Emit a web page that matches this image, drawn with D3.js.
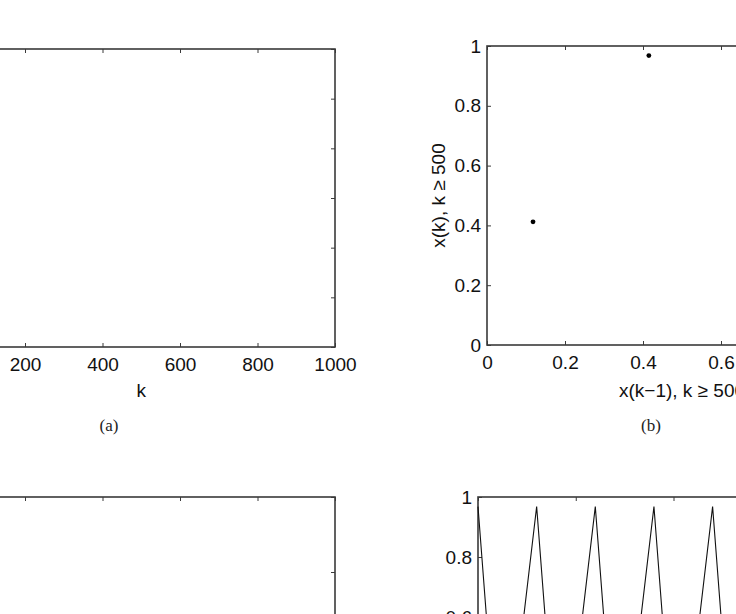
<!DOCTYPE html>
<html>
<head>
<meta charset="utf-8">
<script src="https://cdn.jsdelivr.net/npm/d3@7/dist/d3.min.js"></script>
<style>
  body { margin: 0; background: #fff; }
  svg { display: block; }
</style>
</head>
<body>
<svg id="chart" width="736" height="614"></svg>
<script>
// ---- data ----
// (a) x(k) vs k axis ticks
const kTicksA = [0, 200, 400, 600, 800, 1000];
// (b) phase plot: x(k-1) vs x(k), k >= 500
const phaseXprev = [0.118, 0.415, 0.968];
const phaseX     = [0.412, 0.968, 0.118];
const phaseTicks = [0, 0.2, 0.4, 0.6, 0.8, 1];
// (d) time series, k = 500..520
const seriesK = [500, 501, 502, 503, 504, 505, 506, 507, 508, 509, 510,
                 511, 512, 513, 514, 515, 516, 517, 518, 519, 520];
const seriesX = [0.968, 0.118, 0.413, 0.968, 0.118, 0.413, 0.968, 0.118, 0.413, 0.968, 0.118,
                 0.413, 0.968, 0.118, 0.413, 0.968, 0.118, 0.413, 0.968, 0.118, 0.413];
const seriesKTicks = [500, 505, 510, 515, 520];
const captions = ["(a)", "(b)"];

// ---- drawing ----
const svg = d3.select("#chart");
const FONT = '"Liberation Sans", Arial, Helvetica, sans-serif';
const AX = "#3a3a3a";

function panel(opt) {
  const g = svg.append("g");
  const x = d3.scaleLinear().domain(opt.xDomain).range([opt.left, opt.right]);
  const y = d3.scaleLinear().domain(opt.yDomain).range([opt.bottom, opt.top]);
  const tl = 4;
  const fs = opt.fs || 19;
  const bx = g.append("g").attr("transform", `translate(0,${opt.bottom})`)
    .call(d3.axisBottom(x).tickValues(opt.xTicks).tickSize(-tl).tickPadding(11)
      .tickFormat(opt.xFmt || d3.format("")));
  const tx = g.append("g").attr("transform", `translate(0,${opt.top})`)
    .call(d3.axisTop(x).tickValues(opt.xTicks).tickSize(-tl).tickFormat(""));
  const ly = g.append("g").attr("transform", `translate(${opt.left},0)`)
    .call(d3.axisLeft(y).tickValues(opt.yTicks).tickSize(-tl).tickPadding(6)
      .tickFormat(opt.yFmt || d3.format("")));
  const ry = g.append("g").attr("transform", `translate(${opt.right},0)`)
    .call(d3.axisRight(y).tickValues(opt.yTicks).tickSize(-tl).tickFormat(""));
  [bx, tx, ly, ry].forEach(a => {
    a.select(".domain").remove();
    a.selectAll(".tick line").attr("stroke", AX).attr("stroke-width", 1);
    a.selectAll(".tick text").attr("font-size", fs).attr("fill", "#111")
      .attr("font-family", FONT);
    // drop labels that would lie fully outside the picture
    a.selectAll(".tick text").filter(function() { return this.textContent === ""; }).remove();
  });
  g.append("rect").attr("x", opt.left).attr("y", opt.top)
    .attr("width", opt.right - opt.left).attr("height", opt.bottom - opt.top)
    .attr("fill", "none").attr("stroke", AX).attr("stroke-width", 1.6);
  return {g, x, y};
}

// labels only for ticks whose label is inside the picture for the cropped panels
const kFmtA = d => (d === 0 ? "" : String(d));

// (a)
const pa = panel({left: -52.5, right: 335, top: 49, bottom: 347,
  xDomain: [0, 1000], yDomain: [0, 6], xTicks: kTicksA,
  yTicks: [0, 1, 2, 3, 4, 5, 6], yFmt: () => "", xFmt: kFmtA});
pa.g.append("text").attr("x", pa.x(500)).attr("y", 397)
  .attr("text-anchor", "middle").attr("font-family", FONT).attr("font-size", 19)
  .attr("fill", "#111").text("k");

// (b)
const pb = panel({left: 487, right: 877, top: 46, bottom: 345,
  xDomain: [0, 1], yDomain: [0, 1], xTicks: phaseTicks, yTicks: phaseTicks,
  xFmt: d => (d > 0.7 ? "" : d3.format("~g")(d)), yFmt: d3.format("~g")});
pb.g.selectAll("circle.pt").data(phaseXprev.map((v, i) => [v, phaseX[i]]))
  .join("circle").attr("class", "pt")
  .attr("cx", d => pb.x(d[0])).attr("cy", d => pb.y(d[1]))
  .attr("r", 2.4).attr("fill", "#000");
pb.g.append("text").attr("x", pb.x(0.5)).attr("y", 397)
  .attr("text-anchor", "middle").attr("font-family", FONT).attr("font-size", 19)
  .attr("fill", "#111").text("x(k\u22121), k \u2265 500");
pb.g.append("text").attr("transform", `translate(445,${pb.y(0.5)}) rotate(-90)`)
  .attr("text-anchor", "middle").attr("font-family", FONT).attr("font-size", 19)
  .attr("fill", "#111").text("x(k), k \u2265 500");

// captions
svg.append("text").attr("x", 109).attr("y", 431).attr("text-anchor", "middle")
  .attr("font-family", '"Liberation Serif", "DejaVu Serif", serif').attr("font-size", 17)
  .attr("fill", "#222").text(captions[0]);
svg.append("text").attr("x", 651).attr("y", 431).attr("text-anchor", "middle")
  .attr("font-family", '"Liberation Serif", "DejaVu Serif", serif').attr("font-size", 17)
  .attr("fill", "#222").text(captions[1]);

// (c)
const pc = panel({left: -52.5, right: 335, top: 497, bottom: 797,
  xDomain: [0, 1000], yDomain: [0, 4], xTicks: kTicksA,
  yTicks: [0, 1, 2, 3, 4], yFmt: () => "", xFmt: () => ""});

// (d)
const pd = panel({left: 478, right: 869, top: 497, bottom: 797,
  xDomain: [500, 520], yDomain: [0, 1], xTicks: seriesKTicks,
  yTicks: phaseTicks, yFmt: d3.format("~g"), xFmt: () => ""});
pd.g.append("path").datum(seriesK.map((k, i) => [k, seriesX[i]]))
  .attr("fill", "none").attr("stroke", "#111").attr("stroke-width", 1.1)
  .attr("d", d3.line().x(d => pd.x(d[0])).y(d => pd.y(d[1])));
</script>
</body>
</html>
